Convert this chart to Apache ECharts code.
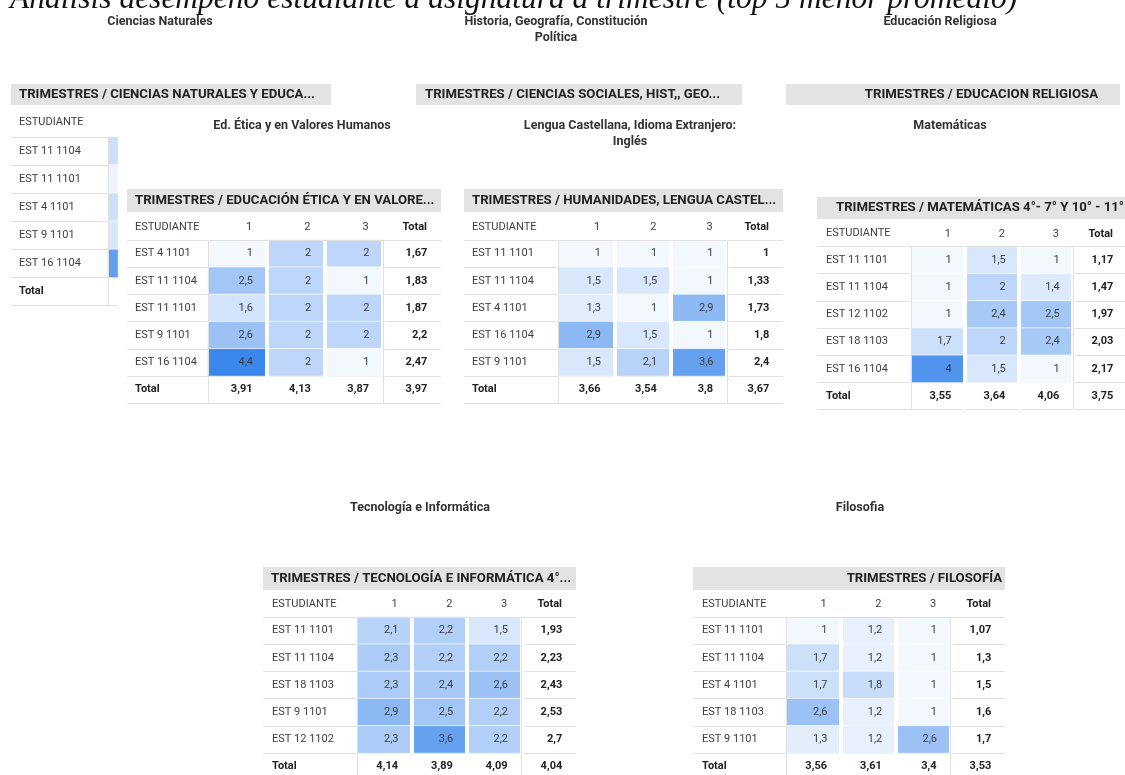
<!DOCTYPE html>
<html>
<head>
<meta charset="utf-8">
<title>Análisis desempeño estudiante</title>
<script src="https://cdn.jsdelivr.net/npm/echarts@6.0.0/dist/echarts.min.js"></script>
<style>
  html, body { margin: 0; padding: 0; background: #fff; }
  #main { width: 1125px; height: 775px; }
</style>
</head>
<body>
<div id="main"></div>
<script>
// columnas de cada tabla
const trimestres = ['1', '2', '3', 'Total'];

// Ciencias Naturales (solo se ve la primera columna)
const cienciasEstudiantes = ['EST 11 1104', 'EST 11 1101', 'EST 4 1101', 'EST 9 1101', 'EST 16 1104'];
const cienciasT1 = [1.7, 1.1, 1.7, 1.5, 3.7];

// Ed. Ética y en Valores Humanos
const eticaEstudiantes = ['EST 4 1101', 'EST 11 1104', 'EST 11 1101', 'EST 9 1101', 'EST 16 1104'];
const eticaT1 = [1, 2.5, 1.6, 2.6, 4.4];
const eticaT2 = [2, 2, 2, 2, 2];
const eticaT3 = [2, 1, 2, 2, 1];
const eticaTotalFila = [1.67, 1.83, 1.87, 2.2, 2.47];
const eticaTotalCol = [3.91, 4.13, 3.87, 3.97];

// Lengua Castellana, Idioma Extranjero: Inglés
const lenguaEstudiantes = ['EST 11 1101', 'EST 11 1104', 'EST 4 1101', 'EST 16 1104', 'EST 9 1101'];
const lenguaT1 = [1, 1.5, 1.3, 2.9, 1.5];
const lenguaT2 = [1, 1.5, 1, 1.5, 2.1];
const lenguaT3 = [1, 1, 2.9, 1, 3.6];
const lenguaTotalFila = [1, 1.33, 1.73, 1.8, 2.4];
const lenguaTotalCol = [3.66, 3.54, 3.8, 3.67];

// Matemáticas
const mateEstudiantes = ['EST 11 1101', 'EST 11 1104', 'EST 12 1102', 'EST 18 1103', 'EST 16 1104'];
const mateT1 = [1, 1, 1, 1.7, 4];
const mateT2 = [1.5, 2, 2.4, 2, 1.5];
const mateT3 = [1, 1.4, 2.5, 2.4, 1];
const mateTotalFila = [1.17, 1.47, 1.97, 2.03, 2.17];
const mateTotalCol = [3.55, 3.64, 4.06, 3.75];

// Tecnología e Informática
const tecEstudiantes = ['EST 11 1101', 'EST 11 1104', 'EST 18 1103', 'EST 9 1101', 'EST 12 1102'];
const tecT1 = [2.1, 2.3, 2.3, 2.9, 2.3];
const tecT2 = [2.2, 2.2, 2.4, 2.5, 3.6];
const tecT3 = [1.5, 2.2, 2.6, 2.2, 2.2];
const tecTotalFila = [1.93, 2.23, 2.43, 2.53, 2.7];
const tecTotalCol = [4.14, 3.89, 4.09, 4.04];

// Filosofía
const filoEstudiantes = ['EST 11 1101', 'EST 11 1104', 'EST 4 1101', 'EST 18 1103', 'EST 9 1101'];
const filoT1 = [1, 1.7, 1.7, 2.6, 1.3];
const filoT2 = [1.2, 1.2, 1.8, 1.2, 1.2];
const filoT3 = [1, 1, 1, 1, 2.6];
const filoTotalFila = [1.07, 1.3, 1.5, 1.6, 1.7];
const filoTotalCol = [3.56, 3.61, 3.4, 3.53];

const LINEA = '#e0e0e0';
const BARRA = '#e3e3e3';
const TEXTO = '#3c4043';
const OSCURO = '#202124';
const FUENTE = 'Roboto';
const CLARO = 'rgba(0,0,0,0)';

// formato con coma decimal
const fmt = (v) => String(v).replace('.', ',');

// posición de cada tabla en el tablero
const tablas = [
  { est: cienciasEstudiantes, vals: [cienciasT1], cols: ['1'], gx: 108, gy: 137, gw: 10, rowH: 28.1, labelW: 97, margin: 89, oculto: true },
  { est: eticaEstudiantes, vals: [eticaT1, eticaT2, eticaT3], fila: eticaTotalFila, col: eticaTotalCol, cols: trimestres, gx: 208, gy: 240, gw: 233, rowH: 27.2, labelW: 81, margin: 73 },
  { est: lenguaEstudiantes, vals: [lenguaT1, lenguaT2, lenguaT3], fila: lenguaTotalFila, col: lenguaTotalCol, cols: trimestres, gx: 558, gy: 240, gw: 225, rowH: 27.2, labelW: 94, margin: 86 },
  { est: mateEstudiantes, vals: [mateT1, mateT2, mateT3], fila: mateTotalFila, col: mateTotalCol, cols: trimestres, gx: 911, gy: 246.5, gw: 216, rowH: 27.2, labelW: 94, margin: 85 },
  { est: tecEstudiantes, vals: [tecT1, tecT2, tecT3], fila: tecTotalFila, col: tecTotalCol, cols: trimestres, gx: 357, gy: 617, gw: 219, rowH: 27.2, labelW: 94, margin: 85 },
  { est: filoEstudiantes, vals: [filoT1, filoT2, filoT3], fila: filoTotalFila, col: filoTotalCol, cols: trimestres, gx: 786, gy: 617, gw: 219, rowH: 27.2, labelW: 93, margin: 84 },
];

const grid = [];
const xAxis = [];
const yAxis = [];
const series = [];
const coloreadas = [];

tablas.forEach((t, k) => {
  const n = t.est.length;
  const cw = t.gw / t.cols.length;
  grid.push({ left: t.gx, top: t.gy, width: t.gw, height: t.rowH * (n + 1), outerBoundsMode: 'none', containLabel: false });

  // eje de cabecera (1, 2, 3, Total) + separación blanca entre columnas
  xAxis.push({
    gridIndex: k,
    type: 'category',
    data: t.cols,
    position: 'top',
    z: 21,
    axisLine: { show: true, lineStyle: { color: LINEA } },
    axisTick: { show: false },
    axisLabel: {
      show: !t.oculto,
      interval: 0,
      margin: 7,
      formatter: (v) => (v === 'Total' ? '{t|Total}' : '{h|' + v + '}'),
      rich: {
        h: { width: cw - 28, align: 'right', fontSize: 11, color: TEXTO, fontFamily: FUENTE },
        t: { width: cw - 28, align: 'right', fontSize: 11, color: OSCURO, fontWeight: 'bold', fontFamily: FUENTE },
      },
    },
    splitLine: {
      show: !t.oculto,
      interval: 0,
      lineStyle: { width: 4, color: [CLARO, '#fff', '#fff', '#fff', CLARO] },
    },
  });
  // eje auxiliar: líneas grises verticales
  xAxis.push({
    gridIndex: k,
    type: 'category',
    data: t.cols,
    position: 'bottom',
    z: 22,
    axisLine: { show: false },
    axisTick: { show: false },
    axisLabel: { show: false },
    splitLine: {
      show: true,
      interval: 0,
      lineStyle: { width: 1, color: t.oculto ? [LINEA, CLARO] : [LINEA, CLARO, CLARO, LINEA, CLARO] },
    },
  });

  yAxis.push({
    gridIndex: k,
    type: 'category',
    inverse: true,
    data: t.est.concat(['Total']),
    z: 19,
    axisLine: { show: false },
    axisTick: { show: true, interval: 0, length: t.labelW, lineStyle: { color: LINEA } },
    axisLabel: {
      interval: 0,
      align: 'left',
      margin: t.margin,
      fontSize: 11,
      color: TEXTO,
      fontFamily: FUENTE,
      formatter: (v) => (v === 'Total' ? '{b|Total}' : v),
      rich: { b: { fontSize: 11, fontWeight: 'bold', color: OSCURO, fontFamily: FUENTE } },
    },
    splitLine: { show: true, interval: 0, lineStyle: { color: LINEA } },
  });

  // celdas coloreadas por trimestre
  const datos = [];
  t.vals.forEach((arr, c) => arr.forEach((v, r) => datos.push([c, r, v])));
  coloreadas.push(series.length);
  series.push({
    type: 'heatmap',
    xAxisIndex: 2 * k,
    yAxisIndex: k,
    z: 20,
    silent: true,
    data: datos,
    itemStyle: { borderColor: 'rgba(255,255,255,0.7)', borderWidth: 1 },
    label: {
      show: !t.oculto,
      position: 'insideRight',
      distance: 14,
      fontSize: 11,
      color: TEXTO,
      fontFamily: FUENTE,
      formatter: (p) => fmt(p.value[2]),
    },
    emphasis: { disabled: true },
  });

  // totales (columna y fila)
  if (t.fila) {
    const tot = [];
    t.fila.forEach((v, r) => tot.push([3, r, v]));
    t.col.forEach((v, c) => tot.push([c, n, v]));
    series.push({
      type: 'heatmap',
      xAxisIndex: 2 * k,
      yAxisIndex: k,
      z: 20,
      silent: true,
      data: tot,
      itemStyle: { color: CLARO },
      label: {
        show: true,
        position: 'insideRight',
        distance: 14,
        fontSize: 11,
        fontWeight: 'bold',
        color: OSCURO,
        fontFamily: FUENTE,
        formatter: (p) => fmt(p.value[2]),
      },
      emphasis: { disabled: true },
    });
  }
});

// textos del tablero
const graficos = [];
const texto = (txt, x, y, font, align, fill, va, lh) => ({
  type: 'text',
  x: x,
  y: y,
  z: 30,
  silent: true,
  style: {
    text: txt,
    font: font,
    fill: fill,
    align: align,
    textAlign: align,
    verticalAlign: va || 'middle',
    textVerticalAlign: va || 'middle',
    lineHeight: lh || 16,
  },
});

graficos.push(texto('Análisis desempeño estudiante a asignatura a trimestre (top 5 menor promedio)', 10, 8,
  'italic 31.5px "Liberation Serif"', 'left', '#111', 'bottom', 16));

const titulos = [
  ['Ciencias Naturales', 160, 14],
  ['Historia, Geografía, Constitución\nPolítica', 556, 14],
  ['Educación Religiosa', 940, 14],
  ['Ed. Ética y en Valores Humanos', 302, 118],
  ['Lengua Castellana, Idioma Extranjero:\nInglés', 630, 118],
  ['Matemáticas', 950, 118],
  ['Tecnología e Informática', 420, 500],
  ['Filosofia', 860, 500],
];
titulos.forEach((a) => graficos.push(texto(a[0], a[1], a[2], 'bold 12.5px Roboto', 'center', '#333', 'top')));

const barras = [
  ['TRIMESTRES / CIENCIAS NATURALES Y EDUCA...', 11, 84, 320, 21, 'left', 19],
  ['TRIMESTRES / CIENCIAS SOCIALES, HIST,, GEO...', 416, 84, 326, 21, 'left', 425],
  ['TRIMESTRES / EDUCACION RELIGIOSA', 786, 84, 334, 21, 'right', 1098],
  ['TRIMESTRES / EDUCACIÓN ÉTICA Y EN VALORE...', 127, 189, 314, 23, 'left', 135],
  ['TRIMESTRES / HUMANIDADES, LENGUA CASTEL...', 464, 189, 319, 23, 'left', 472],
  ['TRIMESTRES / MATEMÁTICAS 4°- 7° Y 10° - 11°', 817, 197, 308, 22, 'right', 1124],
  ['TRIMESTRES / TECNOLOGÍA E INFORMÁTICA 4°...', 263, 567, 313, 23, 'left', 271],
  ['TRIMESTRES / FILOSOFÍA', 693, 567, 312, 23, 'right', 1002],
];
barras.forEach((b) => {
  graficos.push({ type: 'rect', z: 29, silent: true, shape: { x: b[1], y: b[2], width: b[3], height: b[4] }, style: { fill: BARRA } });
  graficos.push(texto(b[0], b[6], b[2] + b[4] / 2, 'bold 13.2px Roboto', b[5], OSCURO));
});

const cabeceras = [[19, 122], [135, 227], [472, 227], [826, 233], [272, 604], [702, 604]];
cabeceras.forEach((c) => graficos.push(texto('ESTUDIANTE', c[0], c[1], '11px Roboto', 'left', TEXTO)));

const chart = echarts.init(document.getElementById('main'), null, { renderer: 'canvas' });
chart.setOption({
  animation: false,
  backgroundColor: '#fff',
  textStyle: { fontFamily: FUENTE },
  grid: grid,
  xAxis: xAxis,
  yAxis: yAxis,
  visualMap: [{
    type: 'continuous',
    show: false,
    min: 1,
    max: 5,
    seriesIndex: coloreadas,
    inRange: { color: ['#f3f7fe', '#1a73e8'] },
  }],
  series: series,
  graphic: { elements: graficos },
});

window.addEventListener('resize', function () {
  chart.resize();
});
</script>
</body>
</html>
